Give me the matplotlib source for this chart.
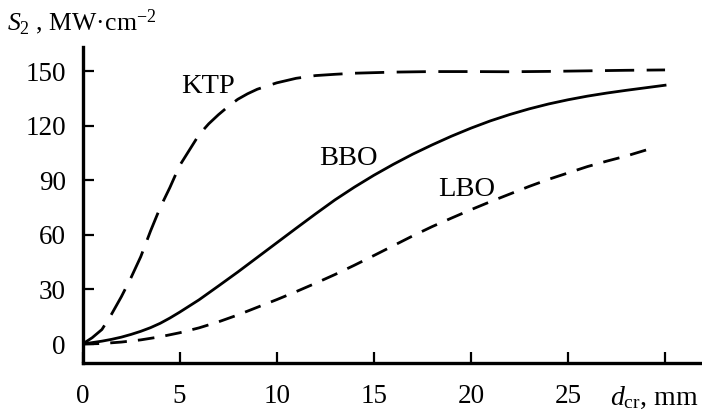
import matplotlib
matplotlib.use("Agg")
import matplotlib.pyplot as plt
import matplotlib.transforms as mtransforms

plt.rcParams['font.family'] = ['Liberation Serif', 'DejaVu Serif']
plt.rcParams['mathtext.fontset'] = 'custom'
plt.rcParams['mathtext.rm'] = 'Liberation Serif'
plt.rcParams['mathtext.it'] = 'Liberation Serif:italic'
plt.rcParams['lines.scale_dashes'] = False

# Data
ktp_x = [0, 0.5, 1, 1.5, 2, 2.5, 3, 3.5, 4, 4.5, 5, 5.5, 6, 6.5, 7, 7.5, 8, 8.5, 9, 10, 11, 12, 13, 14, 16, 18, 20, 22, 24, 26, 28, 30]
ktp_y = [0, 3.5, 8, 16.5, 26, 36.5, 48, 62, 75, 86, 98, 106.5, 115, 121, 126, 130.5, 134.5, 137.5, 140, 143.5, 146, 147.5, 148.2, 148.8, 149.4, 149.7, 149.7, 149.6, 149.8, 150.1, 150.4, 150.6]

bbo_x = [0, 0.5, 1, 1.5, 2, 2.5, 3, 3.5, 4, 4.5, 5, 6, 7, 8, 9, 10, 11, 12, 13, 14, 15, 16, 17, 18, 19, 20, 21, 22, 23, 24, 25, 26, 27, 28, 29, 30]
bbo_y = [0, 0.8, 1.6, 2.6, 3.8, 5.3, 7, 9, 11.4, 14.3, 17.5, 24.3, 31.9, 39.6, 47.6, 55.6, 63.6, 71.5, 79.2, 86.2, 92.7, 98.7, 104.3, 109.4, 114.2, 118.6, 122.6, 126.1, 129.2, 131.9, 134.2, 136.2, 137.9, 139.4, 140.8, 142.2]

lbo_x = [0, 1, 2, 3, 4, 5, 6, 7, 8, 9, 10, 11, 12, 13, 14, 15, 16, 17, 18, 19, 20, 21, 22, 23, 24, 25, 26, 27, 28, 29.3]
lbo_y = [0, 0.3, 1.1, 2.3, 4, 6.2, 8.9, 12.2, 16, 20.2, 24.4, 28.8, 33.4, 38.2, 43.3, 48.6, 54, 59.4, 64.5, 69.2, 73.8, 78.2, 82.4, 86.6, 90.5, 94, 97.5, 100.5, 103.3, 107.5]

x_ticks = [0, 5, 10, 15, 20, 25, 30]
x_tick_labels = ['0', '5', '10', '15', '20', '25', '']
y_ticks = [0, 30, 60, 90, 120, 150]
y_tick_labels = ['0', '30', '60', '90', '120', '150']

curve_labels = ['KTP', 'BBO', 'LBO']
label_pos = [(6.47, 138), (13.7, 98.4), (19.76, 81.5)]

fig = plt.figure(figsize=(7.02, 4.12), dpi=100)
ax = fig.add_axes([82.5/702, (412-363)/412, 617.5/702, 316/412])

lw = 2.0
ax.plot(ktp_x, ktp_y, color='black', lw=lw, dashes=(21, 9))
ax.plot(bbo_x, bbo_y, color='black', lw=lw)
ax.plot(lbo_x, lbo_y, color='black', lw=lw, dashes=(12, 8))

ax.set_xlim(0, 31.8)
ax.set_ylim(-10.4, 163.2)

for s in ['top', 'right']:
    ax.spines[s].set_visible(False)
for s in ['left', 'bottom']:
    ax.spines[s].set_linewidth(2.4)

ax.set_xticks(x_ticks)
ax.set_xticklabels(x_tick_labels)
ax.set_yticks(y_ticks)
ax.set_yticklabels(y_tick_labels)
ax.tick_params(axis='both', direction='in', length=8, width=1.6, labelsize=19.5)
ax.tick_params(axis='x', pad=15)
ax.tick_params(axis='y', pad=12)

for txt, (xx, yy) in zip(curve_labels, label_pos):
    ax.text(xx, yy, txt, ha='center', va='baseline', fontsize=20.5)

trans = mtransforms.blended_transform_factory(ax.transData, ax.transAxes)
ax.text(29.45, -0.133, r'$d_{\mathrm{cr}}$, mm', transform=trans, ha='center', va='baseline', fontsize=20)

fig.text(7/702, 1 - 30/412, r'$S_2$ , MW·cm$^{-2}$', ha='left', va='baseline', fontsize=18.5)

fig.savefig('out.png', dpi=100)
